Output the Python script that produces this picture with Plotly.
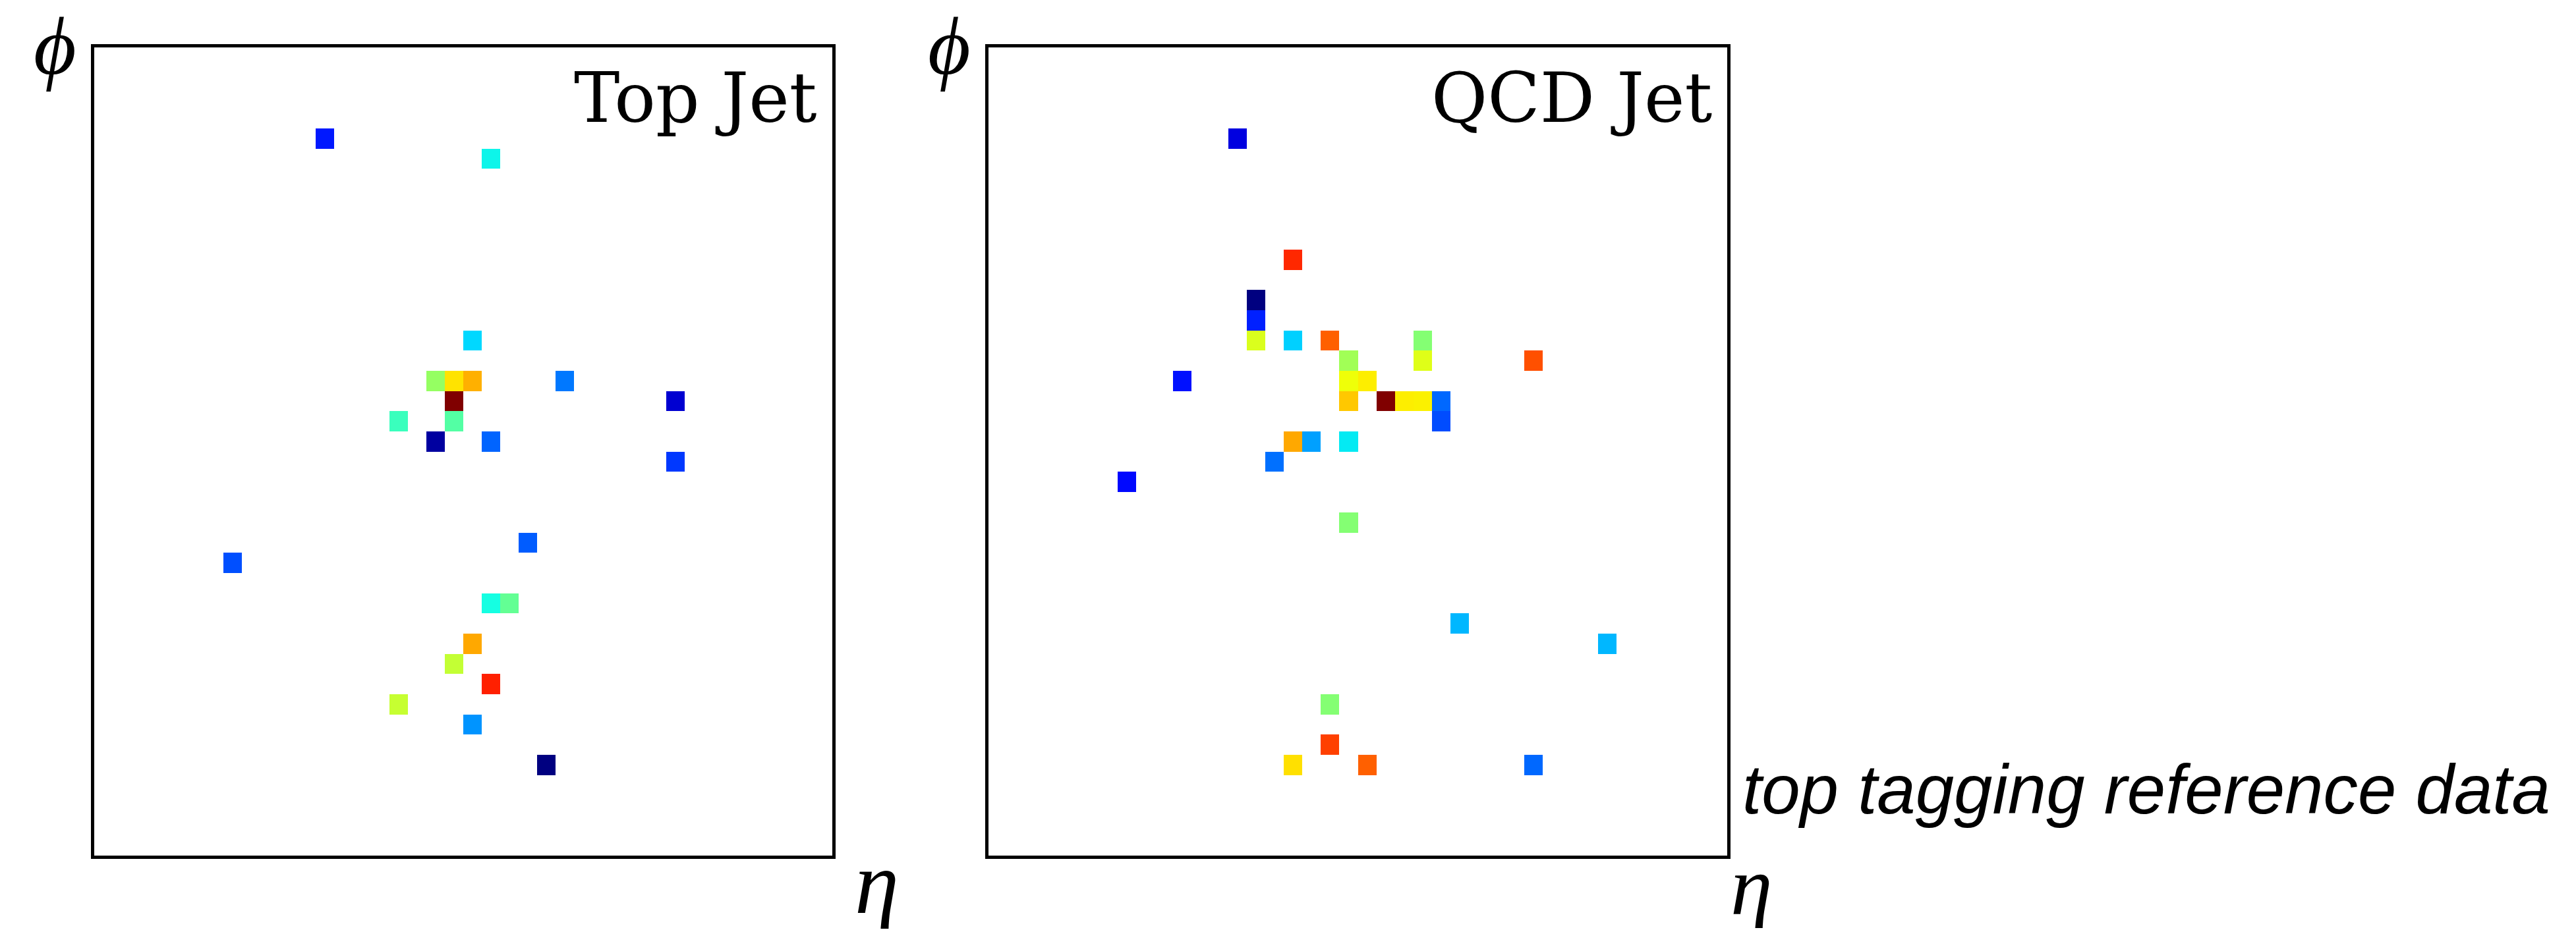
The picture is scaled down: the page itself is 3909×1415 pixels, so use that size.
import numpy as np
import plotly.graph_objects as go

# ---------------- data (cell indices on a 40x40 eta-phi grid, row 0 = top) -------------
N_CELLS = 40

top_cols = [12, 21, 20, 18, 19, 20, 25, 19, 31, 16, 19, 18, 21, 31, 23, 7, 21, 22, 20, 19, 21, 16, 20, 24]
top_rows = [4, 5, 14, 16, 16, 16, 16, 17, 17, 18, 18, 19, 19, 20, 24, 25, 27, 27, 29, 30, 31, 32, 33, 35]
top_vals = [0.149, 0.365, 0.337, 0.53, 0.67, 0.724, 0.243, 1.0, 0.07, 0.42, 0.45, 0.028,
            0.223, 0.18, 0.215, 0.203, 0.375, 0.47, 0.732, 0.587, 0.876, 0.59, 0.27, 0.0]

qcd_cols = [13, 16, 14, 14, 14, 16, 18, 23, 19, 23, 29, 10, 19, 20, 19, 21, 22, 23, 24, 24,
            16, 17, 19, 15, 7, 19, 25, 33, 18, 18, 16, 20, 29]
qcd_rows = [4, 10, 12, 13, 14, 14, 14, 14, 15, 15, 15, 16, 16, 16, 17, 17, 17, 17, 17, 18,
            19, 19, 19, 20, 21, 23, 28, 29, 32, 34, 35, 35, 35]
qcd_vals = [0.083, 0.868, 0.0, 0.156, 0.615, 0.329, 0.808, 0.51, 0.545, 0.62, 0.825, 0.141,
            0.64, 0.658, 0.698, 1.0, 0.658, 0.655, 0.227, 0.2, 0.732, 0.282, 0.355, 0.235,
            0.133, 0.51, 0.305, 0.305, 0.51, 0.842, 0.673, 0.808, 0.227]

panel_titles = ["Top Jet", "QCD Jet"]
x_label = "η"
y_label = "ϕ"
note_text = "top tagging reference data"

# ---------------- matplotlib-style jet colorscale ----------------
_r = [(0.0, 0.0), (0.35, 0.0), (0.66, 1.0), (0.89, 1.0), (1.0, 0.5)]
_g = [(0.0, 0.0), (0.125, 0.0), (0.375, 1.0), (0.64, 1.0), (0.91, 0.0), (1.0, 0.0)]
_b = [(0.0, 0.5), (0.11, 1.0), (0.34, 1.0), (0.65, 0.0), (1.0, 0.0)]


def _chan(seg, t):
    xs, ys = zip(*seg)
    return float(np.interp(t, xs, ys))


stops = sorted(set([p for seg in (_r, _g, _b) for p, _ in seg]))
jet = [[t, "rgb(%d,%d,%d)" % (round(255 * _chan(_r, t)), round(255 * _chan(_g, t)), round(255 * _chan(_b, t)))]
       for t in stops]


def grid(cols, rows, vals):
    z = np.full((N_CELLS, N_CELLS), np.nan)
    for c, r, v in zip(cols, rows, vals):
        z[r, c] = v
    return z


W, H = 3909, 1415
frame_top, frame_bottom = 72.3, 1299.0          # inner edges of the frame (px)
frames_x = [(143.3, 1263.3), (1500.0, 2620.7)]
ydom = [1 - frame_bottom / H, 1 - frame_top / H]

fig = go.Figure()
data = [(top_cols, top_rows, top_vals), (qcd_cols, qcd_rows, qcd_vals)]
idx = list(range(N_CELLS))
for i, (cols, rows, vals) in enumerate(data):
    ax = "" if i == 0 else str(i + 1)
    fig.add_trace(go.Heatmap(
        z=grid(cols, rows, vals), x=idx, y=idx,
        colorscale=jet, zmin=0, zmax=1, showscale=False,
        hoverongaps=False, xaxis="x" + ax, yaxis="y" + ax,
    ))

axis_common = dict(showticklabels=False, ticks="", showgrid=False, zeroline=False,
                   showline=True, mirror=True, linecolor="black", linewidth=5)
for i, (x0, x1) in enumerate(frames_x):
    ax = "" if i == 0 else str(i + 1)
    fig.update_layout(**{
        "xaxis" + ax: dict(domain=[x0 / W, x1 / W], range=[-0.5, N_CELLS - 0.5],
                           anchor="y" + ax, **axis_common),
        "yaxis" + ax: dict(domain=ydom, range=[N_CELLS - 0.5, -0.5], anchor="x" + ax, **axis_common),
    })

ann = []
serif = "Liberation Serif"
for i, (x0, x1) in enumerate(frames_x):
    # panel title
    ann.append(dict(x=(x1 - 21) / W, y=1 - 212 / H, xref="paper", yref="paper",
                    xanchor="right", yanchor="bottom", text=panel_titles[i], showarrow=False,
                    font=dict(family="DejaVu Serif", size=104, color="black")))
    # phi label
    ann.append(dict(x=(x0 - 60) / W, y=1 - 70 / H, xref="paper", yref="paper",
                    xanchor="center", yanchor="middle", valign="middle", height=138,
                    text="<i>%s</i>" % y_label, showarrow=False,
                    font=dict(family=serif, size=125, color="black")))
# eta labels
ann.append(dict(x=1330 / W, y=1 - 1340 / H, xref="paper", yref="paper", xanchor="center",
                yanchor="middle", valign="middle", height=140, text="<i>%s</i>" % x_label,
                showarrow=False, font=dict(family=serif, size=135, color="black")))
ann.append(dict(x=2658 / W, y=1 - 1345 / H, xref="paper", yref="paper", xanchor="center",
                yanchor="middle", valign="middle", height=128, text="<i>%s</i>" % x_label,
                showarrow=False, font=dict(family=serif, size=128, color="black")))
ann.append(dict(x=2642 / W, y=1 - 1259 / H, xref="paper", yref="paper", xanchor="left",
                yanchor="bottom", text="<i>%s</i>" % note_text, showarrow=False,
                font=dict(family="Liberation Sans", size=105, color="black")))

fig.update_layout(width=W, height=H, margin=dict(l=0, r=0, t=0, b=0),
                  paper_bgcolor="white", plot_bgcolor="white", annotations=ann,
                  showlegend=False)
fig.write_html("out.html")
